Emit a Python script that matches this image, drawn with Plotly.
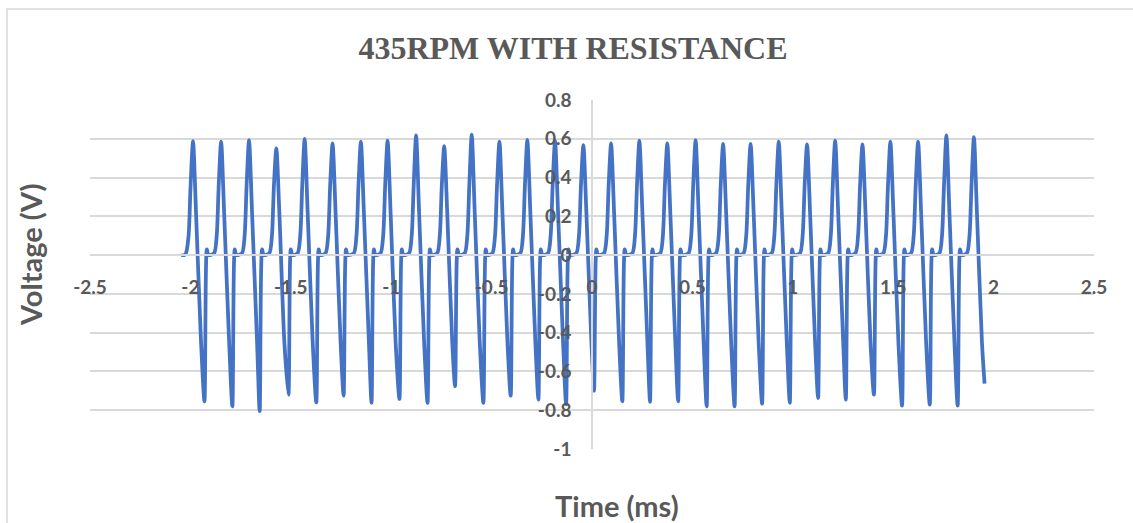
import plotly.graph_objects as go

# Sampled waveform: time in ms, voltage in V (one row per cycle)
time_ms = [
    -2.045, -2.030,
    -2.022, -2.009, -1.999, -1.987, -1.972, -1.947, -1.930, -1.918, -1.910,
    -1.882, -1.869, -1.859, -1.847, -1.832, -1.807, -1.791, -1.779, -1.771,
    -1.743, -1.730, -1.720, -1.708, -1.693, -1.668, -1.655, -1.643, -1.635,
    -1.607, -1.594, -1.584, -1.572, -1.557, -1.532, -1.512, -1.500, -1.492,
    -1.466, -1.453, -1.443, -1.431, -1.416, -1.391, -1.373, -1.361, -1.353,
    -1.327, -1.314, -1.304, -1.292, -1.277, -1.252, -1.237, -1.225, -1.217,
    -1.186, -1.173, -1.163, -1.151, -1.136, -1.111, -1.098, -1.086, -1.078,
    -1.053, -1.040, -1.030, -1.018, -1.003, -0.978, -0.959, -0.947, -0.939,
    -0.911, -0.898, -0.888, -0.876, -0.861, -0.836, -0.819, -0.807, -0.799,
    -0.771, -0.758, -0.748, -0.736, -0.721, -0.696, -0.682, -0.670, -0.662,
    -0.634, -0.621, -0.611, -0.599, -0.584, -0.559, -0.541, -0.529, -0.521,
    -0.496, -0.483, -0.473, -0.461, -0.446, -0.421, -0.405, -0.393, -0.385,
    -0.357, -0.344, -0.334, -0.322, -0.307, -0.282, -0.267, -0.255, -0.247,
    -0.219, -0.206, -0.196, -0.184, -0.169, -0.144, -0.129, -0.117, -0.109,
    -0.078, -0.065, -0.055, -0.043, -0.028, -0.003, 0.010, 0.022, 0.030,
    0.060, 0.073, 0.083, 0.095, 0.110, 0.135, 0.151, 0.163, 0.171,
    0.201, 0.214, 0.224, 0.236, 0.251, 0.276, 0.289, 0.301, 0.309,
    0.340, 0.353, 0.363, 0.375, 0.390, 0.415, 0.429, 0.441, 0.449,
    0.481, 0.494, 0.504, 0.516, 0.531, 0.556, 0.571, 0.583, 0.591,
    0.618, 0.631, 0.641, 0.653, 0.668, 0.693, 0.710, 0.722, 0.730,
    0.755, 0.768, 0.778, 0.790, 0.805, 0.830, 0.847, 0.859, 0.867,
    0.895, 0.908, 0.918, 0.930, 0.945, 0.970, 0.985, 0.997, 1.005,
    1.036, 1.049, 1.059, 1.071, 1.086, 1.111, 1.126, 1.138, 1.146,
    1.176, 1.189, 1.199, 1.211, 1.226, 1.251, 1.264, 1.276, 1.284,
    1.312, 1.325, 1.335, 1.347, 1.362, 1.387, 1.404, 1.416, 1.424,
    1.451, 1.464, 1.474, 1.486, 1.501, 1.526, 1.544, 1.556, 1.564,
    1.589, 1.602, 1.612, 1.624, 1.639, 1.664, 1.682, 1.694, 1.702,
    1.730, 1.743, 1.753, 1.765, 1.780, 1.805, 1.821, 1.833, 1.841,
    1.867, 1.880, 1.890, 1.902, 1.917, 1.942, 1.955,
]

voltage = [
    0.0, 0.0,
    0.01, 0.10, 0.36, 0.588, 0.22, -0.45, -0.754, 0.03, 0.0,
    0.01, 0.10, 0.36, 0.585, 0.22, -0.45, -0.780, 0.03, 0.0,
    0.01, 0.10, 0.36, 0.593, 0.22, -0.45, -0.805, 0.03, 0.0,
    0.01, 0.10, 0.36, 0.550, 0.22, -0.45, -0.720, 0.03, 0.0,
    0.01, 0.10, 0.36, 0.600, 0.22, -0.45, -0.760, 0.03, 0.0,
    0.01, 0.10, 0.36, 0.576, 0.22, -0.45, -0.725, 0.03, 0.0,
    0.01, 0.10, 0.36, 0.585, 0.22, -0.45, -0.762, 0.03, 0.0,
    0.01, 0.10, 0.36, 0.590, 0.22, -0.45, -0.742, 0.03, 0.0,
    0.01, 0.10, 0.36, 0.617, 0.22, -0.45, -0.762, 0.03, 0.0,
    0.01, 0.10, 0.36, 0.562, 0.22, -0.45, -0.677, 0.03, 0.0,
    0.01, 0.10, 0.36, 0.622, 0.22, -0.45, -0.762, 0.03, 0.0,
    0.01, 0.10, 0.36, 0.585, 0.22, -0.45, -0.725, 0.03, 0.0,
    0.01, 0.10, 0.36, 0.595, 0.22, -0.45, -0.745, 0.03, 0.0,
    0.01, 0.10, 0.36, 0.590, 0.22, -0.45, -0.770, 0.03, 0.0,
    0.01, 0.10, 0.36, 0.567, 0.22, -0.45, -0.700, 0.03, 0.0,
    0.01, 0.10, 0.36, 0.576, 0.22, -0.45, -0.754, 0.03, 0.0,
    0.01, 0.10, 0.36, 0.590, 0.22, -0.45, -0.757, 0.03, 0.0,
    0.01, 0.10, 0.36, 0.576, 0.22, -0.45, -0.754, 0.03, 0.0,
    0.01, 0.10, 0.36, 0.593, 0.22, -0.45, -0.780, 0.03, 0.0,
    0.01, 0.10, 0.36, 0.574, 0.22, -0.45, -0.780, 0.03, 0.0,
    0.01, 0.10, 0.36, 0.574, 0.22, -0.45, -0.766, 0.03, 0.0,
    0.01, 0.10, 0.36, 0.585, 0.22, -0.45, -0.762, 0.03, 0.0,
    0.01, 0.10, 0.36, 0.571, 0.22, -0.45, -0.737, 0.03, 0.0,
    0.01, 0.10, 0.36, 0.590, 0.22, -0.45, -0.745, 0.03, 0.0,
    0.01, 0.10, 0.36, 0.571, 0.22, -0.45, -0.720, 0.03, 0.0,
    0.01, 0.10, 0.36, 0.585, 0.22, -0.45, -0.776, 0.03, 0.0,
    0.01, 0.10, 0.36, 0.585, 0.22, -0.45, -0.771, 0.03, 0.0,
    0.01, 0.10, 0.36, 0.617, 0.22, -0.45, -0.776, 0.03, 0.0,
    0.01, 0.10, 0.36, 0.609, 0.22, -0.45, -0.663,
]

x_ticks = [-2.5, -2, -1.5, -1, -0.5, 0, 0.5, 1, 1.5, 2, 2.5]
x_tick_labels = ["-2.5", "-2", "-1.5", "-1", "-0.5", "0", "0.5", "1", "1.5", "2", "2.5"]
y_ticks = [-1, -0.8, -0.6, -0.4, -0.2, 0, 0.2, 0.4, 0.6, 0.8]
y_tick_labels = ["-1", "-0.8", "-0.6", "-0.4", "-0.2", "0", "0.2", "0.4", "0.6", "0.8"]

X_RANGE = [-2.5, 2.5]
Y_RANGE = [-1, 0.8]

TEXT = "#595959"
GRID = "#d9d9d9"
LINE = "#4472C4"

fig = go.Figure()
fig.add_trace(go.Scatter(
    x=time_ms, y=voltage, mode="lines",
    line=dict(color=LINE, width=3.75, shape="spline", smoothing=0.75),
    hoverinfo="x+y", showlegend=False,
))

# axes cross at the origin
y_cross = (0 - Y_RANGE[0]) / (Y_RANGE[1] - Y_RANGE[0])
x_cross = (0 - X_RANGE[0]) / (X_RANGE[1] - X_RANGE[0])

tick_font = dict(family="Lato", size=19, color=TEXT, weight="bold")
title_font = dict(family="Lato", size=29, color=TEXT, weight="bold")

fig.update_layout(
    width=1133, height=523,
    margin=dict(l=90, r=39, t=100, b=74),
    paper_bgcolor="white", plot_bgcolor="white",
    title=dict(
        text="435RPM WITH RESISTANCE",
        font=dict(family="Liberation Serif", size=32, color=TEXT, weight="bold"),
        x=573 / 1133, xanchor="center", y=1 - 48 / 523, yanchor="middle",
    ),
    xaxis=dict(
        range=X_RANGE, tickvals=x_ticks, ticktext=x_tick_labels,
        anchor="free", position=y_cross,
        showgrid=False, zeroline=False, showline=True, linecolor=GRID, linewidth=1.5,
        ticks="", tickfont=tick_font, ticklabelstandoff=15,
    ),
    yaxis=dict(
        range=Y_RANGE, tickvals=y_ticks, ticktext=y_tick_labels,
        anchor="free", position=x_cross,
        showgrid=True, gridcolor=GRID, gridwidth=1.5, zeroline=False,
        showline=True, linecolor=GRID, linewidth=1.5,
        ticks="", tickfont=tick_font, ticklabelstandoff=16,
    ),
    annotations=[
        dict(text="Voltage (V)", xref="paper", yref="paper",
             x=(30 - 90) / 1004, y=(449 - 255) / 349, textangle=-90,
             showarrow=False, xanchor="center", yanchor="middle",
             font=title_font),
        dict(text="Time (ms)", xref="paper", yref="paper",
             x=(617 - 90) / 1004, y=(449 - 505) / 349,
             showarrow=False, xanchor="center", yanchor="middle",
             font=title_font),
    ],
    shapes=[
        # chart-area frame
        dict(type="rect", xref="paper", yref="paper",
             x0=(7 - 90) / 1004, x1=(1140 - 90) / 1004,
             y0=(449 - 530) / 349, y1=(449 - 9) / 349,
             line=dict(color=GRID, width=1.5), layer="below"),
    ],
)

fig.write_html("out.html")
